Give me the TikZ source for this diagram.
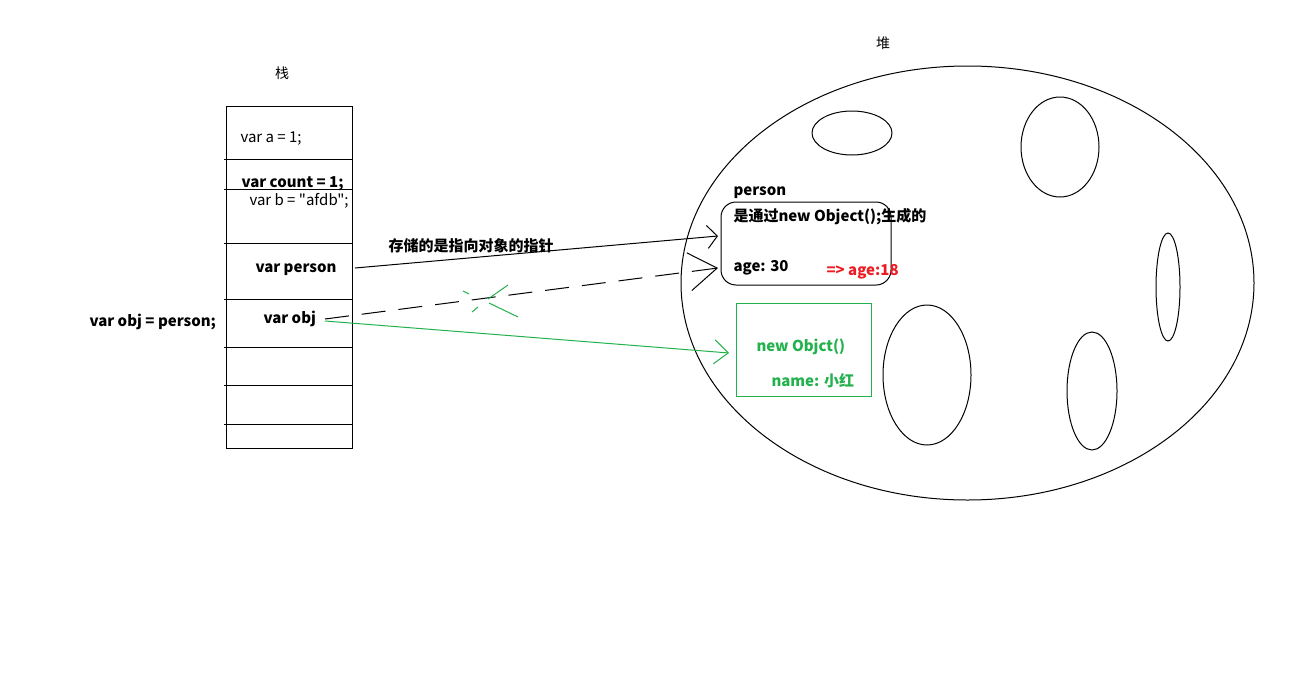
\documentclass[tikz,border=0pt]{standalone}
\usepackage{fontspec}
\setmainfont{Noto Sans CJK SC}[Ligatures=TeXOff]
\usetikzlibrary{shapes.geometric,arrows.meta}

\definecolor{paintgreen}{RGB}{34,177,76}
\definecolor{paintred}{RGB}{237,28,36}

\begin{document}
\begin{tikzpicture}[x=1pt, y=-1pt, line width=1pt,
  txt/.style={anchor=west, inner sep=0pt, yshift=-2.5pt, font=\fontsize{15}{17}\selectfont},
  btxt/.style={txt, font=\fontsize{15}{17}\selectfont\bfseries},
  hole/.style={draw, ellipse, inner sep=0pt},
  ptr/.style={-{Straight Barb[length=10pt,width=23pt]}}]
\useasboundingbox (0,0) rectangle (1300,680);

% stack
\node[yshift=-2pt] (stacklabel) at (282,71) {\fontsize{14}{16}\selectfont 栈};
\node[draw, minimum width=126pt, minimum height=342pt, inner sep=0pt] (stack) at (289,277) {};
\foreach \y in {159,189,243,299,347,385,424}
  \draw (224,\y) -- (353,\y);
\node[txt] (va) at (240,136) {var a = 1;};
\node[btxt] (vcount) at (241,181) {var count = 1;};
\node[txt] (vb) at (249,198) {var b = "afdb";};
\node[btxt] (vperson) at (255,267) {var person};
\node[btxt] (vobj) at (263,316) {var obj};
\node[btxt] (assign) at (89,319) {var obj = person;};
\node[btxt] (note) at (388,243) {存储的是指向对象的指针};

% heap
\node[yshift=-2pt] (heaplabel) at (883,41) {\fontsize{14}{16}\selectfont 堆};
\node[draw, ellipse, minimum width=573pt, minimum height=434pt] (heap) at (967.5,283) {};
\node[hole, minimum width=80pt, minimum height=44pt] (h1) at (852,133) {};
\node[hole, minimum width=78pt, minimum height=100pt] (h2) at (1060,147) {};
\node[hole, minimum width=24pt, minimum height=108pt] (h3) at (1168,287) {};
\node[hole, minimum width=88pt, minimum height=140pt] (h4) at (927,375) {};
\node[hole, minimum width=50pt, minimum height=118pt] (h5) at (1092,391) {};

% objects
\node[draw, rounded corners=15pt, minimum width=170pt, minimum height=83pt] (pbox) at (806,243.5) {};
\node[btxt] (pname) at (733,190) {person};
\node[btxt] (pnew) at (733,214) {是通过new Object();生成的};
\node[btxt] (page) at (733,265) {age: 30};
\node[btxt, text=paintred] (pnewage) at (826,269) {=> age:18};
\node[draw=paintgreen, minimum width=135pt, minimum height=93pt] (gbox) at (803.5,349.5) {};
\node[btxt, text=paintgreen] (gnew) at (756,344) {new Objct()};
\node[btxt, text=paintgreen] (gname) at (771,378) {name: 小红};

% pointers
\coordinate (pfrom) at (355,268);
\coordinate (pto) at (718,236);
\coordinate (ofrom) at (325,319);
\coordinate (oto) at (718,268);
\coordinate (gfrom) at (325,321);
\coordinate (gto) at (729,353);
\draw[ptr] (pfrom) -- (pto);
\draw[-{Straight Barb[length=28pt,width=38pt]}, dash pattern=on 24pt off 13pt] (ofrom) -- (oto);
\draw[paintgreen, -{Straight Barb[length=14pt,width=24pt]}] (gfrom) -- (gto);
% crossed out
\draw[paintgreen] (463,291) -- (469,294) (489,303) -- (518,317)
  (472,312) -- (478,307) (488,299) -- (508,285);
\end{tikzpicture}
\end{document}
